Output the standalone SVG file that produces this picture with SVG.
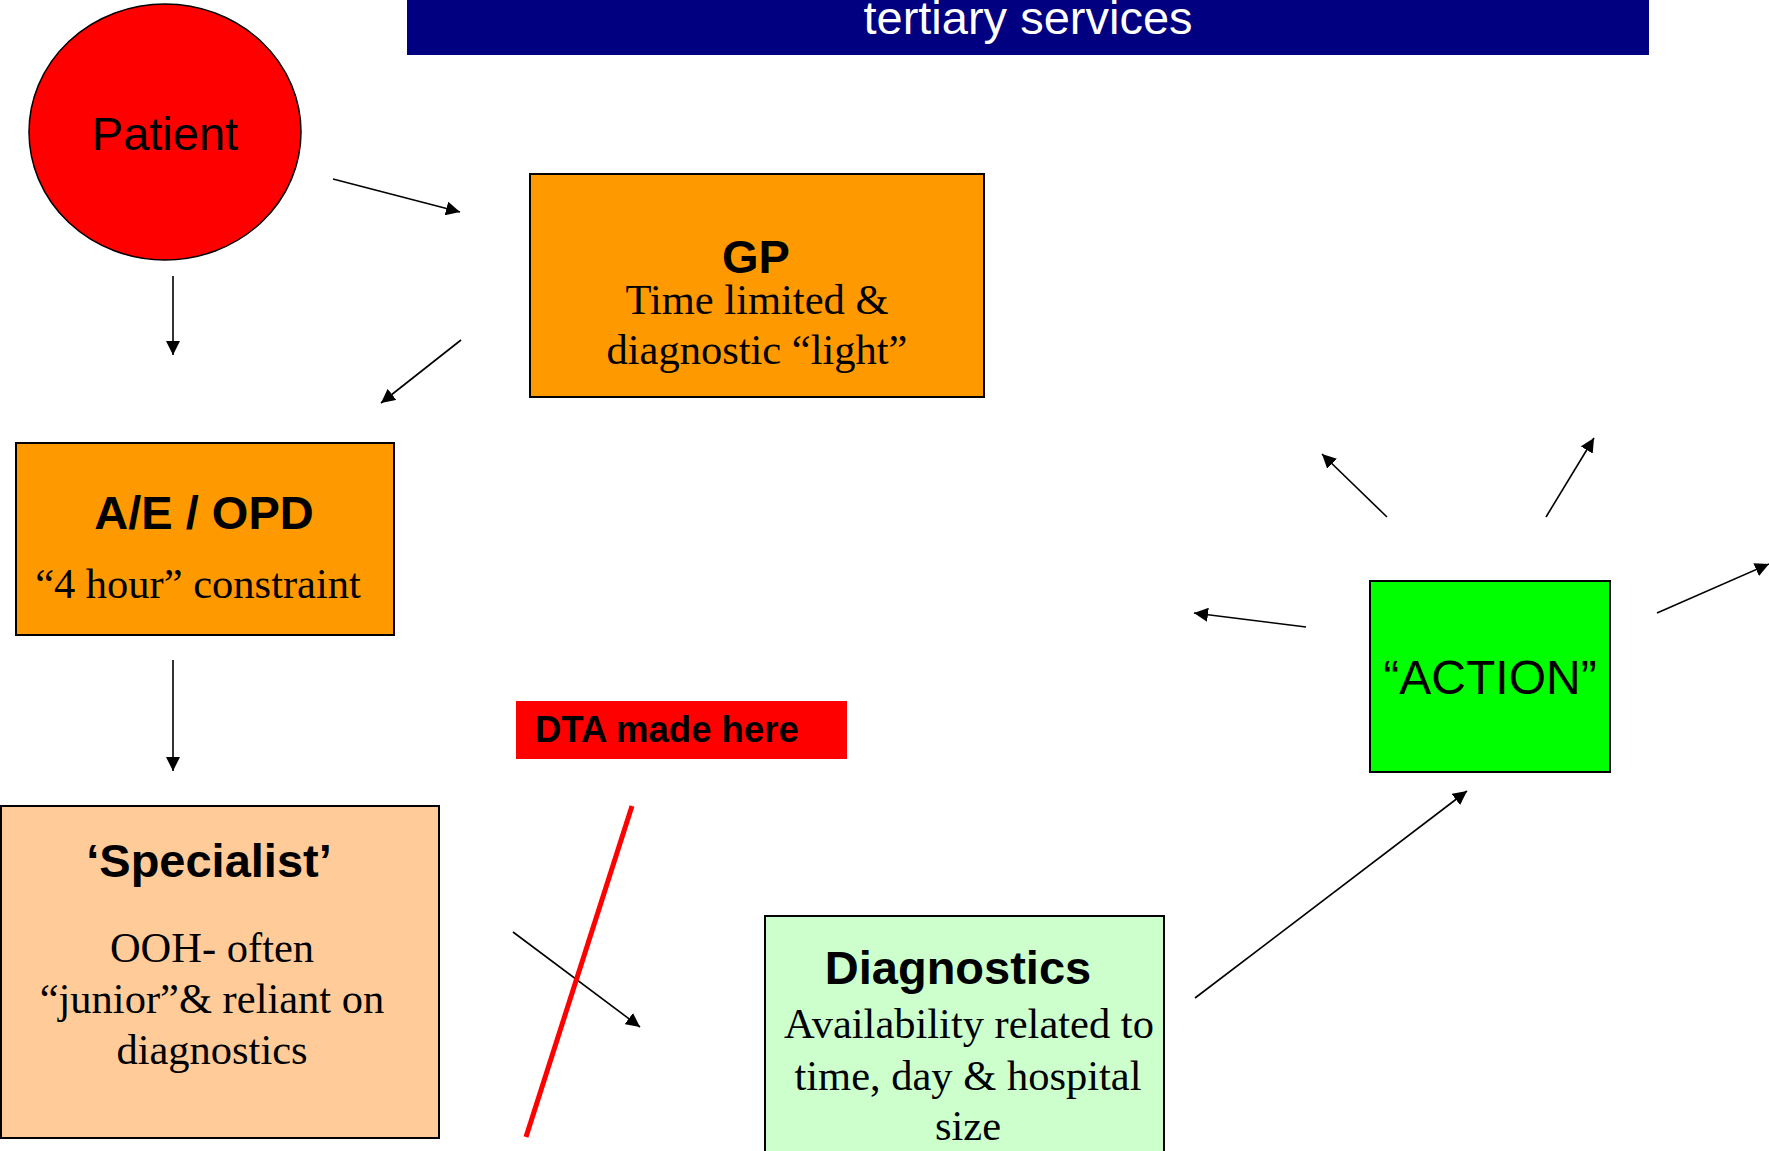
<svg xmlns="http://www.w3.org/2000/svg" width="1769" height="1151" viewBox="0 0 1769 1151">
  <defs>
    <marker id="arrow" viewBox="0 0 10 10" refX="10" refY="5" markerWidth="14" markerHeight="14" markerUnits="userSpaceOnUse" orient="auto">
      <path d="M0,0 L10,5 L0,10 z" fill="#000"/>
    </marker>
    <style>
      .box { stroke: #000; stroke-width: 2; }
      .head { font-family: "Liberation Sans", Arial, sans-serif; font-weight: bold; font-size: 47px; fill: #000; text-anchor: middle; }
      .body { font-family: "Liberation Serif", "Times New Roman", serif; font-size: 42.5px; fill: #000; text-anchor: middle; }
      .conn line { stroke: #000; stroke-width: 1.6; marker-end: url(#arrow); }
    </style>
  </defs>
  <rect width="1769" height="1151" fill="#fff"/>

  <!-- top banner -->
  <g id="banner">
    <rect x="407" y="0" width="1242" height="55" fill="#000080"/>
    <text x="1028" y="34" font-family="Liberation Sans, Arial, sans-serif" font-size="47" fill="#fff" text-anchor="middle">tertiary services</text>
  </g>

  <g id="patient">
    <ellipse cx="165" cy="132" rx="136" ry="128" fill="#ff0000" stroke="#000" stroke-width="1.5"/>
    <text x="165" y="150" font-family="Liberation Sans, Arial, sans-serif" font-size="47" fill="#000" text-anchor="middle">Patient</text>
  </g>

  <g id="gp">
    <rect class="box" x="530" y="174" width="454" height="223" fill="#ff9900"/>
    <text class="head" x="756" y="273">GP</text>
    <text class="body" x="757" y="314">Time limited &amp;</text>
    <text class="body" x="757" y="364">diagnostic “light”</text>
  </g>

  <g id="ae-opd">
    <rect class="box" x="16" y="443" width="378" height="192" fill="#ff9900"/>
    <text class="head" x="204" y="529">A/E / OPD</text>
    <text class="body" x="198" y="598">“4 hour” constraint</text>
  </g>

  <g id="specialist">
    <rect class="box" x="1" y="806" width="438" height="332" fill="#ffcc99"/>
    <text class="head" x="209" y="877">‘Specialist’</text>
    <text class="body" x="212" y="962">OOH- often</text>
    <text class="body" x="212" y="1013">“junior”&amp; reliant on</text>
    <text class="body" x="212" y="1064">diagnostics</text>
  </g>

  <g id="dta">
    <rect x="516" y="701" width="331" height="58" fill="#ff0000"/>
    <text x="535" y="742" font-family="Liberation Sans, Arial, sans-serif" font-weight="bold" font-size="36.5" fill="#000">DTA made here</text>
  </g>

  <g id="diagnostics">
    <rect class="box" x="765" y="916" width="399" height="250" fill="#ccffcc"/>
    <text class="head" x="958" y="984">Diagnostics</text>
    <text class="body" x="969" y="1038">Availability related to</text>
    <text class="body" x="968" y="1090">time, day &amp; hospital</text>
    <text class="body" x="968" y="1140">size</text>
  </g>

  <g id="action">
    <rect class="box" x="1370" y="581" width="240" height="191" fill="#00ff00"/>
    <text x="1490" y="694" font-family="Liberation Sans, Arial, sans-serif" font-size="48" fill="#000" text-anchor="middle">“ACTION”</text>
  </g>

  <!-- connectors -->
  <g id="connectors" class="conn">
    <line x1="333" y1="179" x2="460" y2="212"/>
    <line x1="173" y1="276" x2="173" y2="355"/>
    <line x1="461" y1="340" x2="381" y2="403"/>
    <line x1="173" y1="660" x2="173" y2="771"/>
    <line x1="513" y1="932" x2="640" y2="1027"/>
    <line x1="1195" y1="998" x2="1467" y2="791"/>
    <line x1="1306" y1="627" x2="1194" y2="613"/>
    <line x1="1387" y1="517" x2="1322" y2="454"/>
    <line x1="1546" y1="517" x2="1594" y2="438"/>
    <line x1="1657" y1="613" x2="1769" y2="564"/>
  </g>

  <!-- strike-through across the specialist to diagnostics path -->
  <line id="dta-strike" x1="632" y1="806" x2="526" y2="1137" stroke="#ff0000" stroke-width="5"/>
</svg>
